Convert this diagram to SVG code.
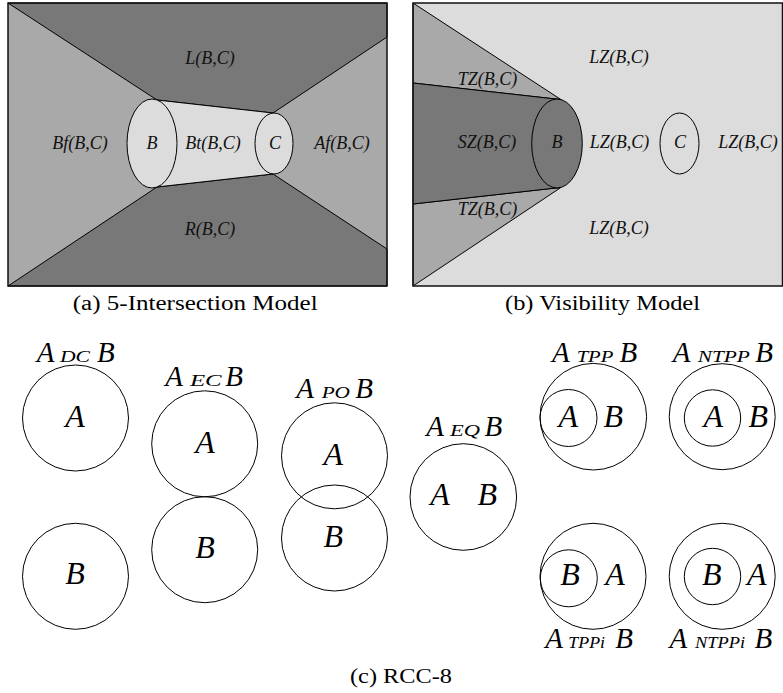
<svg xmlns="http://www.w3.org/2000/svg" width="783" height="693" viewBox="0 0 783 693">
<style>
.dark{fill:#787878;stroke:#000;stroke-width:1}
.mid{fill:#a9a9a9;stroke:#000;stroke-width:1}
.light{fill:#dcdcdc;stroke:#000;stroke-width:1}
.frame{fill:none;stroke:#111;stroke-width:1.5}
text{font-family:'Liberation Serif','Times New Roman','DejaVu Serif',serif}
.lbl{font-style:italic;font-size:18px;fill:#111;text-anchor:middle}
.circ{fill:none;stroke:#000;stroke-width:1}
.big{font-style:italic;font-size:32px;fill:#000;text-anchor:middle}
.ttl{font-style:italic;font-size:29px;fill:#000;text-anchor:middle}
.sc{font-style:italic;font-size:16px;fill:#000;text-anchor:middle}
.cap{font-size:20px;fill:#000}
</style>
<rect width="783" height="693" fill="#fff"/>

<g id="panel-a">
  <rect x="8" y="3" width="379" height="283" fill="#a9a9a9"/>
  <polygon class="dark" points="8,3 387,3 387,37 273,113 157,100"/>
  <polygon class="dark" points="8,286 157,187 273,174 387,249 387,286"/>
  <polygon class="light" points="157,100 273,113 273,174 157,187"/>
  <ellipse class="light" cx="152" cy="143.5" rx="25" ry="44.5"/>
  <ellipse class="light" cx="274" cy="143.5" rx="19" ry="30.5"/>
  <rect class="frame" x="8" y="3" width="379" height="283"/>
  <text class="lbl" x="210" y="64">L(B,C)</text>
  <text class="lbl" x="80" y="149">Bf(B,C)</text>
  <text class="lbl" x="152" y="149">B</text>
  <text class="lbl" x="213" y="149">Bt(B,C)</text>
  <text class="lbl" x="275" y="149">C</text>
  <text class="lbl" x="342" y="149">Af(B,C)</text>
  <text class="lbl" x="210" y="235">R(B,C)</text>
  <text class="cap" x="72.7" y="310" textLength="245" lengthAdjust="spacingAndGlyphs">(a) 5-Intersection Model</text>
</g>

<g id="panel-b">
  <rect x="413" y="3" width="369.5" height="283" fill="#dcdcdc"/>
  <polygon class="mid" points="413,3 561,99.6 413,83"/>
  <polygon class="mid" points="413,204 561,187.4 413,286"/>
  <polygon class="dark" points="413,83 561,99.6 561,187.4 413,204"/>
  <ellipse class="dark" cx="557" cy="143.5" rx="25.3" ry="44.5"/>
  <ellipse class="circ" cx="679.5" cy="143.5" rx="19.5" ry="30.5"/>
  <rect class="frame" x="413" y="3" width="369.5" height="283"/>
  <text class="lbl" x="619" y="63">LZ(B,C)</text>
  <text class="lbl" x="487.5" y="85">TZ(B,C)</text>
  <text class="lbl" x="487" y="148">SZ(B,C)</text>
  <text class="lbl" x="557" y="148">B</text>
  <text class="lbl" x="619.5" y="148">LZ(B,C)</text>
  <text class="lbl" x="680" y="148">C</text>
  <text class="lbl" x="748" y="148">LZ(B,C)</text>
  <text class="lbl" x="487.5" y="215">TZ(B,C)</text>
  <text class="lbl" x="619" y="234">LZ(B,C)</text>
  <text class="cap" x="505" y="310" textLength="195" lengthAdjust="spacingAndGlyphs">(b) Visibility Model</text>
</g>

<g id="rcc-dc">
  <circle class="circ" cx="75.5" cy="418" r="53"/>
  <circle class="circ" cx="75.5" cy="576.3" r="53"/>
  <text class="big" x="75" y="426.7">A</text>
  <text class="big" x="75" y="584">B</text>
  <text class="ttl" x="45.5" y="361.7">A</text>
  <text class="sc" x="75" y="361.7" textLength="30" lengthAdjust="spacingAndGlyphs">DC</text>
  <text class="ttl" x="105.8" y="361.7">B</text>
</g>

<g id="rcc-ec">
  <circle class="circ" cx="204.7" cy="443.8" r="53"/>
  <circle class="circ" cx="204.7" cy="549.7" r="53"/>
  <text class="big" x="205" y="452.7">A</text>
  <text class="big" x="205" y="558.3">B</text>
  <text class="ttl" x="174.2" y="386">A</text>
  <text class="sc" x="205.8" y="386" textLength="31.7" lengthAdjust="spacingAndGlyphs">EC</text>
  <text class="ttl" x="234.2" y="386">B</text>
</g>

<g id="rcc-po">
  <circle class="circ" cx="334.5" cy="455.8" r="53"/>
  <circle class="circ" cx="334.5" cy="538" r="53"/>
  <text class="big" x="333.3" y="465">A</text>
  <text class="big" x="333.3" y="546.7">B</text>
  <text class="ttl" x="305" y="398.3">A</text>
  <text class="sc" x="335.8" y="398.3" textLength="28.3" lengthAdjust="spacingAndGlyphs">PO</text>
  <text class="ttl" x="364.2" y="398.3">B</text>
</g>

<g id="rcc-eq">
  <circle class="circ" cx="463.3" cy="497" r="53.3"/>
  <text class="big" x="440" y="505">A</text>
  <text class="big" x="487.3" y="505">B</text>
  <text class="ttl" x="435" y="436">A</text>
  <text class="sc" x="465" y="436" textLength="30" lengthAdjust="spacingAndGlyphs">EQ</text>
  <text class="ttl" x="493.3" y="436">B</text>
</g>

<g id="rcc-tpp">
  <circle class="circ" cx="593.3" cy="416.7" r="53.3"/>
  <circle class="circ" cx="568.5" cy="418" r="28.5"/>
  <text class="big" x="568.3" y="426.7">A</text>
  <text class="big" x="613.3" y="426.7">B</text>
  <text class="ttl" x="560.8" y="361.7">A</text>
  <text class="sc" x="595" y="361.7" textLength="36.7" lengthAdjust="spacingAndGlyphs">TPP</text>
  <text class="ttl" x="628.3" y="361.7">B</text>
</g>

<g id="rcc-ntpp">
  <circle class="circ" cx="722.2" cy="416.7" r="53"/>
  <circle class="circ" cx="712.5" cy="418" r="28.2"/>
  <text class="big" x="713.3" y="426.7">A</text>
  <text class="big" x="758.3" y="426.7">B</text>
  <text class="ttl" x="681.7" y="361.7">A</text>
  <text class="sc" x="723.8" y="361.7" textLength="52.3" lengthAdjust="spacingAndGlyphs">NTPP</text>
  <text class="ttl" x="764.2" y="361.7">B</text>
</g>

<g id="rcc-tppi">
  <circle class="circ" cx="593" cy="576.3" r="53"/>
  <circle class="circ" cx="568.8" cy="578.3" r="28.5"/>
  <text class="big" x="570" y="585">B</text>
  <text class="big" x="615" y="585">A</text>
  <text class="ttl" x="554.2" y="648.3">A</text>
  <text class="sc" x="586.7" y="648.3" textLength="36.7" lengthAdjust="spacingAndGlyphs">TPPi</text>
  <text class="ttl" x="624.2" y="648.3">B</text>
</g>

<g id="rcc-ntppi">
  <circle class="circ" cx="722.2" cy="576.3" r="53"/>
  <circle class="circ" cx="712.5" cy="576.5" r="28.2"/>
  <text class="big" x="711.7" y="585">B</text>
  <text class="big" x="756.7" y="585">A</text>
  <text class="ttl" x="678.3" y="648.3">A</text>
  <text class="sc" x="720" y="648.3" textLength="50" lengthAdjust="spacingAndGlyphs">NTPPi</text>
  <text class="ttl" x="763.3" y="648.3">B</text>
</g>

<g id="connectors"></g>

<text id="caption-c" class="cap" x="350" y="683" textLength="102" lengthAdjust="spacingAndGlyphs">(c) RCC-8</text>
</svg>
